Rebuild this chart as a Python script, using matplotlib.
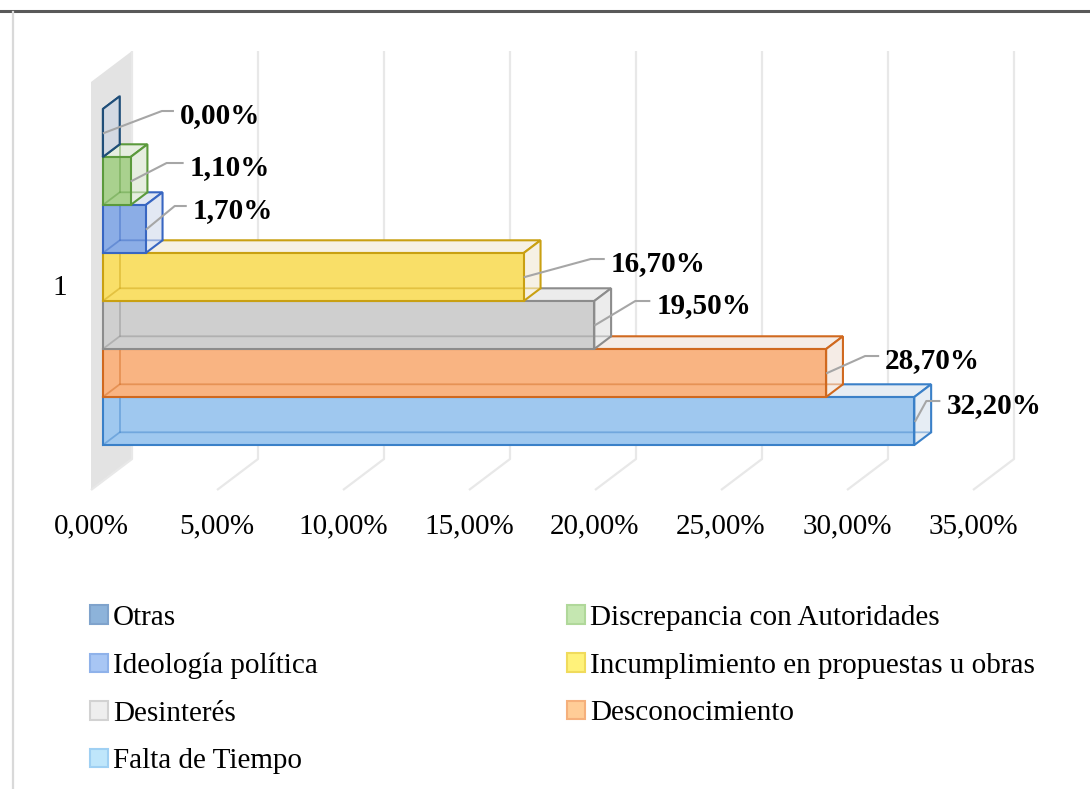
import matplotlib.pyplot as plt
from matplotlib.patches import Polygon, Patch
from matplotlib.lines import Line2D

plt.rcParams['font.family'] = ['Liberation Serif', 'DejaVu Serif']

# datos (de arriba hacia abajo, como en el gráfico)
series = ['Otras', 'Discrepancia con Autoridades', 'Ideología política',
          'Incumplimiento en propuestas u obras', 'Desinterés',
          'Desconocimiento', 'Falta de Tiempo']
values = [0.0, 1.1, 1.7, 16.7, 19.5, 28.7, 32.2]
category = '1'
x_ticks = [0, 5, 10, 15, 20, 25, 30, 35]

# colores
edge_colors = ['#1f4e79', '#5b9a3c', '#3866c2', '#c9a012', '#8c8c8c', '#d0691f', '#3a80c8']
front_colors = ['#c8d0db', '#a9d18e', '#8badE6', '#f9df68', '#cfcfcf', '#f9b482', '#9fc8ef']
side_colors = ['#d3d9e2', '#e6eee0', '#e2e8f3', '#f6f1e4', '#ececec', '#f5ece6', '#e6edf4']
legend_fill = ['#8db3da', '#c5e7b1', '#a8c6f4', '#fff27a', '#eeeeee', '#ffcd97', '#bfe6fb']
legend_edge = ['#7fa3cc', '#b0d89a', '#8fb2ea', '#f0db5c', '#d2d2d2', '#f5b07c', '#9fd0f3']

# posición de etiquetas (px relativos al borde derecho frontal de cada barra)
label_dx = [77, 59, 47, 87, 62, 59, 32]
label_dy = [-10, -6, -11, -6, -12, -5, -8]
elbow_dx = [59, 36, 29, 67, 41, 39, 12]

# escala: px por % y px por ranura de barra
PX_X = 25.2
PX_Y = 48.0
DX = 41 / PX_X          # profundidad total del gráfico
DY = 31 / PX_Y
D0, D1 = 0.29, 0.70     # profundidad de las barras
WALL_H = 8.5
FS = 21


def pt(x, y, d):
    return (x + d * DX, y + d * DY)


fig = plt.figure(figsize=(10.9, 7.89), dpi=100)
ax = fig.add_axes([0, 0, 1, 1])
ax.set_xlim(-91 / PX_X, (1090 - 91) / PX_X)
ax.set_ylim((490 - 789) / PX_Y, 490 / PX_Y)
ax.axis('off')

# pared lateral
wall = Polygon([pt(0, 0, 0), pt(0, WALL_H, 0), pt(0, WALL_H, 1), pt(0, 0, 1)],
               closed=True, facecolor='#e3e3e3', edgecolor='none', zorder=1)
ax.add_patch(wall)

# líneas de cuadrícula
for t in x_ticks:
    xs = [pt(t, 0, 0)[0], pt(t, 0, 1)[0], pt(t, WALL_H, 1)[0]]
    ys = [pt(t, 0, 0)[1], pt(t, 0, 1)[1], pt(t, WALL_H, 1)[1]]
    ax.plot(xs, ys, color='#e8e8e8', lw=1.6, zorder=1.5, solid_capstyle='butt')
    ax.text(t, (490 - 533) / PX_Y, f'{t:.2f}%'.replace('.', ','),
            ha='center', va='baseline', fontsize=FS)

ax.text(-31 / PX_X, (490 - 288) / PX_Y, category, ha='center', va='center', fontsize=FS)

# barras 3D (de abajo hacia arriba)
n = len(values)
for i in reversed(range(n)):
    v = values[i]
    y0 = 0.75 + (n - 1 - i)
    y1 = y0 + 1
    z = 2 + (n - i) * 0.1
    ec = edge_colors[i]
    top = [pt(0, y1, D0), pt(v, y1, D0), pt(v, y1, D1), pt(0, y1, D1)]
    right = [pt(v, y0, D0), pt(v, y0, D1), pt(v, y1, D1), pt(v, y1, D0)]
    front = [pt(0, y0, D0), pt(v, y0, D0), pt(v, y1, D0), pt(0, y1, D0)]
    ax.add_patch(Polygon(top, closed=True, facecolor=side_colors[i], edgecolor=ec,
                         lw=1.5, zorder=z, joinstyle='miter'))
    ax.add_patch(Polygon(right, closed=True, facecolor=side_colors[i], edgecolor=ec,
                         lw=1.5, zorder=z, joinstyle='miter'))
    ax.add_patch(Polygon(front, closed=True, facecolor=front_colors[i], edgecolor=ec,
                         lw=1.5, zorder=z + 0.01, joinstyle='miter'))
    # aristas ocultas vistas a través de la cara frontal
    hid = [pt(0, y0, D0), pt(0, y0, D1), pt(v, y0, D1)]
    ax.plot([p[0] for p in hid], [p[1] for p in hid], color=ec, lw=1.3, alpha=0.45, zorder=z + 0.02)
    hid2 = [pt(0, y0, D1), pt(0, y1, D1)]
    ax.plot([p[0] for p in hid2], [p[1] for p in hid2], color=ec, lw=1.3, alpha=0.45, zorder=z + 0.02)

    # etiqueta con línea guía
    ax0, ay0 = pt(v, y0 + 0.5, D0)
    base_y = ay0 - label_dy[i] / PX_Y
    line_y = base_y + 12 / PX_Y
    lx = [ax0 + 1 / PX_X, ax0 + elbow_dx[i] / PX_X, ax0 + (label_dx[i] - 7) / PX_X]
    ly = [ay0, line_y, line_y]
    ax.plot(lx, ly, color='#a6a6a6', lw=1.5, zorder=5)
    ax.text(ax0 + label_dx[i] / PX_X, base_y, f'{v:.2f}%'.replace('.', ','),
            ha='left', va='baseline', fontsize=FS, fontweight='bold', zorder=6)

# bordes del marco
fig.add_artist(Line2D([0, 1], [1 - 11 / 789] * 2, transform=fig.transFigure,
                      color='#595959', lw=2.2))
fig.add_artist(Line2D([13 / 1090] * 2, [0, 1 - 12 / 789], transform=fig.transFigure,
                      color='#d9d9d9', lw=1.6))

# leyenda (orden por filas como en el original)
handles = [Patch(facecolor=legend_fill[k], edgecolor=legend_edge[k], lw=1.5, label=series[k])
           for k in range(n)]
order = [0, 2, 4, 6, 1, 3, 5]
fig.legend(handles=[handles[k] for k in order], loc='upper left',
           bbox_to_anchor=(90 / 1090, 1 - 605 / 789), ncol=2, frameon=False,
           fontsize=FS, handlelength=0.6, handleheight=0.6, handletextpad=0.18,
           labelspacing=0.74, columnspacing=8.55, borderpad=0, borderaxespad=0)

fig.savefig('out.png', dpi=100, facecolor='white')
